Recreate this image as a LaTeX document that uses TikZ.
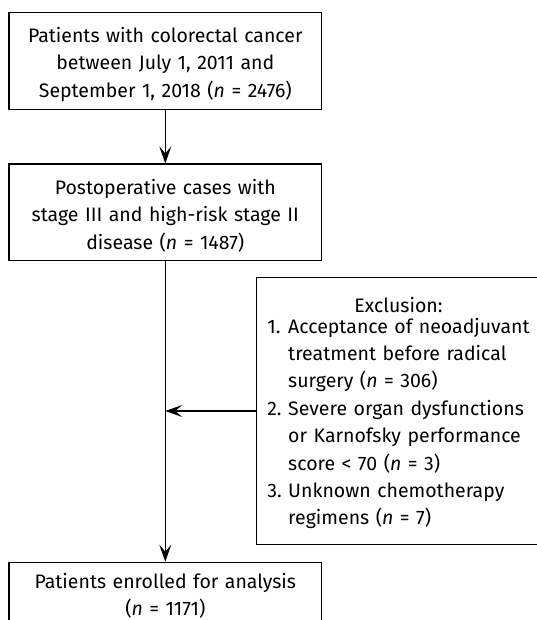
\documentclass[tikz,border=0pt]{standalone}
\usepackage{fontspec}
\setmainfont{Fira Sans}
\usetikzlibrary{arrows.meta}

\begin{document}
\begin{tikzpicture}[x=1pt,y=1pt,
    flow/.style={draw,line width=1.2pt,align=center,text width=305pt,
        inner sep=0pt,font=\fontsize{19.5}{27.4}\selectfont},
    link/.style={line width=1.2pt,-{Stealth[length=17pt,width=12pt,inset=7pt]}}]
\useasboundingbox (0,0) rectangle (537,620);
\clip (0,0) rectangle (537,620);

\node (pc) [flow,minimum width=312.7pt,minimum height=96.6pt] at (165.3,559)
    {\rule{0pt}{22pt}Patients with colorectal cancer\\ between July 1, 2011 and\\
     September 1, 2018 (\textit{n} = 2476)};
\node (po) [flow,minimum width=312.7pt,minimum height=96.7pt] at (165.3,407.6)
    {\rule{0pt}{22pt}Postoperative cases with\\ stage III and high-risk stage II\\
     disease (\textit{n} = 1487)};
\node (ex) [flow,anchor=west,text width=278pt,minimum width=284.3pt,
    minimum height=266.6pt] at (255.7,209)
    {\rule{0pt}{24pt}Exclusion:\\
     \begin{tabular}{@{}l@{\ }l@{}}
     1. & Acceptance of neoadjuvant\\
        & treatment before radical\\
        & surgery (\textit{n} = 306)\\
     2. & Severe organ dysfunctions\\
        & or Karnofsky performance\\
        & score < 70 (\textit{n} = 3)\\
     3. & Unknown chemotherapy\\
        & regimens (\textit{n} = 7)
     \end{tabular}};
\node (pe) [flow,anchor=north,minimum width=312.7pt,inner ysep=11pt]
    at (165.3,58.3)
    {Patients enrolled for analysis\\ (\textit{n} = 1171)};

\coordinate (mid) at (po.south |- ex.west);
\draw[link] (pc) -- (po);
\draw[link] (po) -- (pe);
\draw[link] (ex.west) -- (mid);
\end{tikzpicture}
\end{document}
